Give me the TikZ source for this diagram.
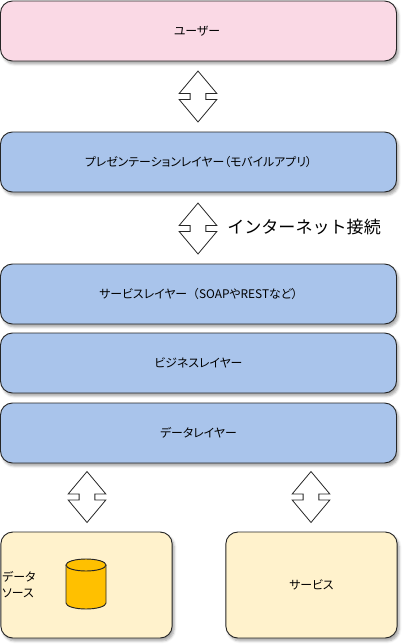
\documentclass[tikz,border=0pt]{standalone}
\usepackage{fontspec}
\setmainfont{Noto Sans CJK JP}[RawFeature=+palt]
\newfontfamily\netfont{Noto Sans CJK JP}
\usetikzlibrary{positioning,shapes.geometric,shapes.arrows,shadows.blur}
\definecolor{pinkbox}{HTML}{FAD9E5}
\definecolor{bluebox}{HTML}{A9C4EB}
\definecolor{yellowbox}{HTML}{FFF2CC}
\definecolor{drumfill}{HTML}{FFC000}
\begin{document}
\begin{tikzpicture}[x=0.75pt,y=-0.75pt,font=\fontsize{8.9}{11}\selectfont]
\tikzstyle{lay}=[draw=black!85,rounded corners=9pt,line width=0.7pt,minimum width=297pt,minimum height=45pt,inner sep=0pt,blur shadow={shadow xshift=1.5pt,shadow yshift=-2.2pt,shadow blur radius=1.8pt,shadow opacity=35}]
\tikzstyle{low}=[lay,fill=yellowbox,minimum width=128.5pt,minimum height=79.5pt]
\tikzstyle{twoway}=[draw=black!85,fill=white,line width=0.6pt,shape=double arrow,rotate=90,inner sep=0pt,minimum height=38.2pt,text width=1pt,text height=11.2pt,text depth=0pt,double arrow head extend=8.2pt,double arrow tip angle=80]
\tikzstyle{drum}=[draw=black!85,fill=drumfill,line width=0.7pt]
\useasboundingbox (0,0) rectangle (410,644);
\node[lay,fill=pinkbox] (user) at (198.5,31) {};
\node at (197,31) (usertxt) {ユーザー};
\foreach \n/\y/\t in {pres/162/{プレゼンテーションレイヤー（モバイルアプリ）},serv/294/{サービスレイヤー{\netfont（}SOAPやRESTなど）},biz/363/{ビジネスレイヤー},data/433/{データレイヤー}} \node[lay,fill=bluebox] (\n) at (198.5,\y) {\t};
\node[low] (src) at (86.5,585) {};
\node[low] (svc) at (311.5,585) {サービス};
\node[anchor=west,align=left,inner sep=0pt,font=\fontsize{8.9}{12}\selectfont] (srctxt) at (2,585) {データ\\ソース};
\draw[drum] (66,565) -- (66,603) arc[start angle=180,end angle=360,x radius=15pt,y radius=4.5pt] -- (106,565);
\draw[drum] (86,565) ellipse[x radius=15pt,y radius=4.5pt];
\foreach \n/\x/\y in {a1/198/96.5,a2/198/228.5,a3/87/497,a4/311/497} \node[twoway] (\n) at (\x,\y) {};
\node[anchor=west,inner sep=0pt,font=\netfont\fontsize{12.8}{15}\selectfont] (net) at (227,227) {インターネット接続};
\end{tikzpicture}
\end{document}
